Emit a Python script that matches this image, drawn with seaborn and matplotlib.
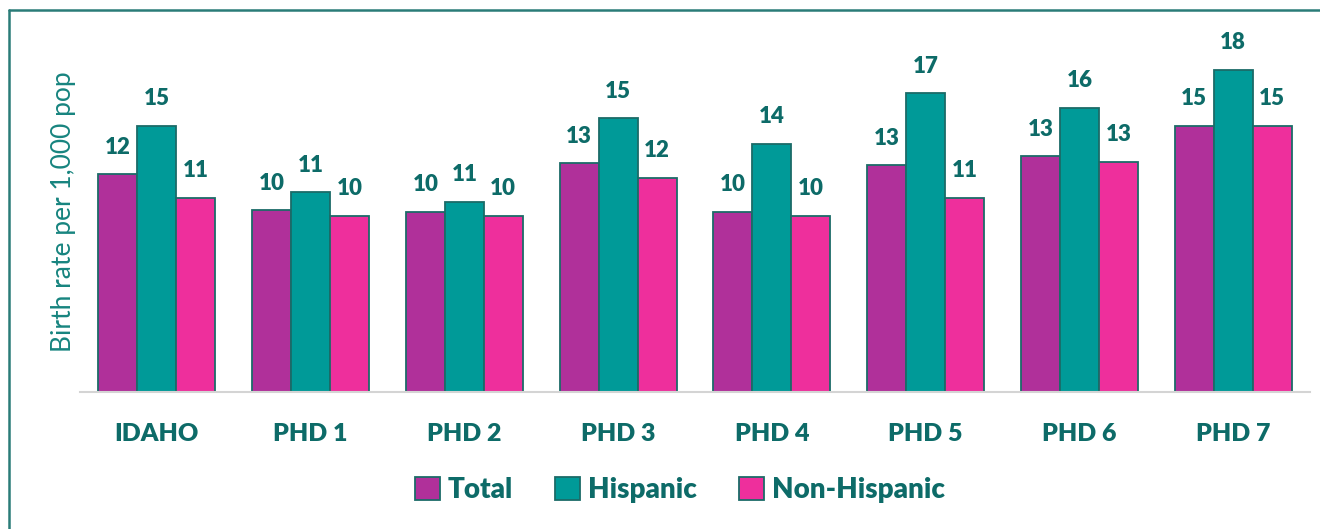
import pandas as pd
import seaborn as sns
import matplotlib.pyplot as plt
from matplotlib.lines import Line2D
from matplotlib.patches import Patch

# Birth rates per 1,000 population by district and ethnicity
districts = ['IDAHO', 'PHD 1', 'PHD 2', 'PHD 3', 'PHD 4', 'PHD 5', 'PHD 6', 'PHD 7']
total = [12.1, 10.1, 10.0, 12.7, 10.0, 12.6, 13.1, 14.8]
hispanic = [14.8, 11.1, 10.55, 15.2, 13.8, 16.6, 15.8, 17.9]
non_hispanic = [10.8, 9.8, 9.8, 11.9, 9.8, 10.8, 12.8, 14.8]
series = ['Total', 'Hispanic', 'Non-Hispanic']

colors = {'Total': '#b0309a', 'Hispanic': '#009a98', 'Non-Hispanic': '#ee2f9c'}
edge = '#1b6b68'
text_teal = '#0d6b68'

df = pd.DataFrame({
    'district': districts * 3,
    'group': [s for s in series for _ in districts],
    'rate': total + hispanic + non_hispanic,
})

sns.set_style('white')
plt.rcParams['font.family'] = ['Lato', 'DejaVu Sans']

fig = plt.figure(figsize=(13.2, 5.29), dpi=100)
ax = fig.add_axes([80 / 1320, 1 - 392 / 529, 1230 / 1320, 360 / 529])

sns.barplot(data=df, x='district', y='rate', hue='group', hue_order=series,
            palette=colors, width=0.76, edgecolor=edge, linewidth=1.3,
            saturation=1, legend=False, ax=ax)

for c in ax.containers:
    ax.bar_label(c, fmt='%.0f', padding=12, fontsize=16, fontweight='heavy',
                 color=text_teal)

ax.set_ylim(0, 20)
ax.set_xlim(-0.5, len(districts) - 0.5)
ax.set_yticks([])
ax.set_xlabel('')
ax.set_ylabel('Birth rate per 1,000 pop', fontsize=19, color='#17847f', labelpad=3)
ax.tick_params(axis='x', length=0, pad=22)
for lbl in ax.get_xticklabels():
    lbl.set_fontsize(18)
    lbl.set_fontweight('heavy')
    lbl.set_color(text_teal)

for s in ['top', 'right', 'left']:
    ax.spines[s].set_visible(False)
ax.spines['bottom'].set_color('#d4d4d4')
ax.spines['bottom'].set_linewidth(1.5)

handles = [Patch(facecolor=colors[s], edgecolor=edge, linewidth=1.3) for s in series]
fig.legend(handles, series, loc='center', bbox_to_anchor=(680 / 1320, 1 - 490 / 529),
           ncol=3, frameon=False, prop={'size': 20, 'weight': 'heavy'},
           labelcolor=text_teal, handlelength=0.9, handleheight=0.9,
           handletextpad=0.3, columnspacing=1.5)

# teal frame around the chart (runs off the right and bottom edges)
fig.add_artist(Line2D([8.5 / 1320, 1], [1 - 9.5 / 529] * 2, color='#2a7c78', lw=1.8))
fig.add_artist(Line2D([8.5 / 1320] * 2, [0, 1 - 9.5 / 529], color='#2a7c78', lw=1.8))

fig.savefig('out.png', dpi=100)
